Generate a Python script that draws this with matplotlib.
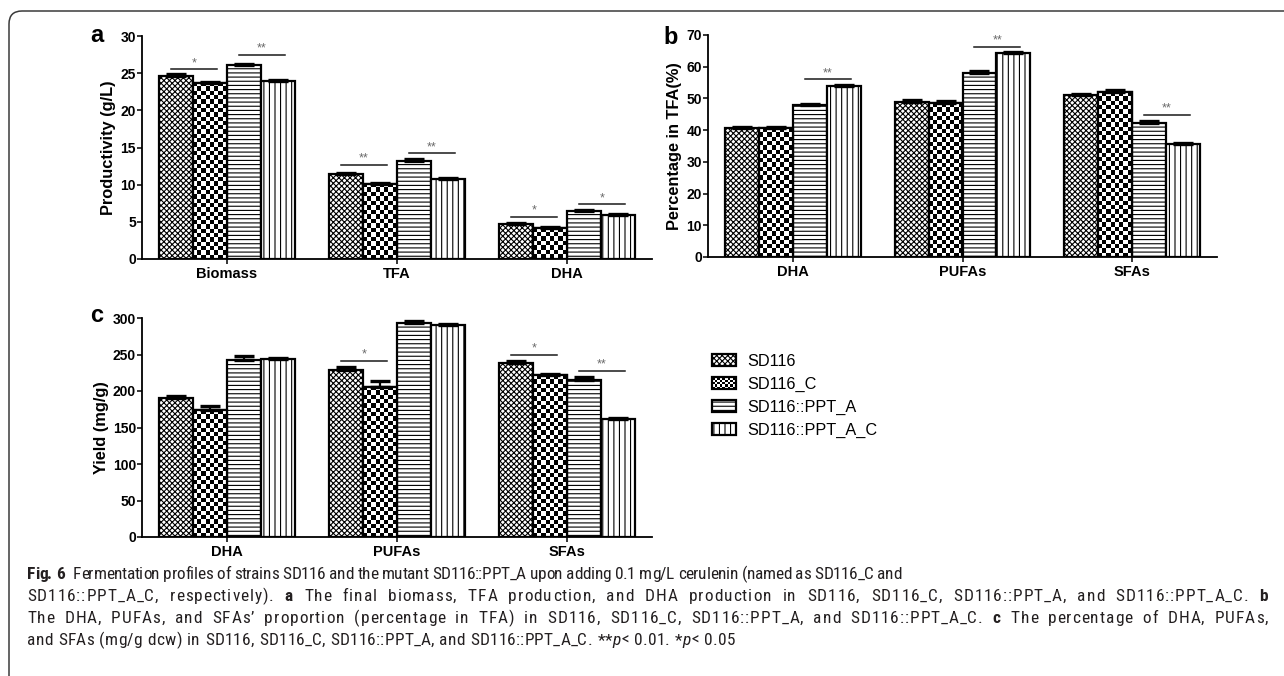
"""Fermentation profiles of SD116 strains: productivity, TFA share and yield."""
import numpy as np
import matplotlib

matplotlib.use("Agg")
import matplotlib.pyplot as plt  # noqa: E402
from matplotlib import font_manager  # noqa: E402
from matplotlib.legend_handler import HandlerBase  # noqa: E402
from matplotlib.patches import FancyBboxPatch, Patch, Rectangle  # noqa: E402

W, H = 1284, 676

strains = ["SD116", "SD116_C", "SD116::PPT_A", "SD116::PPT_A_C"]

# panel a: productivity (g/L), rows = categories, cols = strains
prod_cats = ["Biomass", "TFA", "DHA"]
prod_vals = [[24.6, 23.7, 26.1, 23.9],
             [11.5, 10.1, 13.2, 10.8],
             [4.7, 4.2, 6.4, 5.9]]
prod_err = [[0.25, 0.15, 0.1, 0.15],
            [0.1, 0.15, 0.2, 0.1],
            [0.1, 0.15, 0.15, 0.1]]
# (category, bar i, bar j, height, label)
prod_sig = [(0, 0, 1, 25.5, "*"), (0, 2, 3, 27.4, "**"),
            (1, 0, 1, 12.7, "**"), (1, 2, 3, 14.2, "**"),
            (2, 0, 1, 5.7, "*"), (2, 2, 3, 7.35, "*")]

# panel b: percentage in TFA (%)
pct_cats = ["DHA", "PUFAs", "SFAs"]
pct_vals = [[40.8, 40.6, 47.9, 53.9],
            [49.0, 48.5, 58.0, 64.3],
            [51.2, 51.9, 42.3, 35.6]]
pct_err = [[0.3, 0.4, 0.5, 0.3],
           [0.5, 0.6, 0.5, 0.3],
           [0.3, 0.7, 0.5, 0.2]]
pct_sig = [(0, 2, 3, 56.0, "**"), (1, 2, 3, 66.3, "**"), (2, 2, 3, 44.9, "**")]

# panel c: yield (mg/g)
yield_cats = ["DHA", "PUFAs", "SFAs"]
yield_vals = [[190.5, 173.5, 243.0, 244.0],
              [229.0, 205.5, 293.5, 291.0],
              [238.5, 221.5, 215.5, 161.5]]
yield_err = [[3, 6, 5, 1],
             [4, 8, 3, 1],
             [3, 2, 3, 1]]
yield_sig = [(1, 0, 1, 241.6, "*"), (2, 0, 1, 249.3, "*"), (2, 2, 3, 228.0, "**")]

HATCHES = ["xxxxxx", None, "----", "|||"]  # None = checkerboard
EDGE_LW = 1.6

plt.rcParams["font.family"] = ["Liberation Sans", "DejaVu Sans"]
plt.rcParams["hatch.linewidth"] = 0.8


def pick_caption_font():
    fl = font_manager.fontManager.ttflist
    for name in ["Roboto Condensed", "Liberation Sans Narrow", "Open Sans Condensed"]:
        if any(f.name == name for f in fl):
            return name, "normal"
    if any(f.name == "DejaVu Sans" and f.stretch == "condensed" for f in fl):
        return "DejaVu Sans", "condensed"
    return "DejaVu Sans", "normal"


CAP_FONT, CAP_STRETCH = pick_caption_font()


def px_axes(fig, left, top, right, bottom):
    return fig.add_axes([left / W, 1 - bottom / H, (right - left) / W, (bottom - top) / H])


def checker(ax, bar, cell):
    bb = bar.get_window_extent()
    nx = max(1, int(round(bb.width / cell)))
    ny = max(1, int(round(bb.height / cell)))
    grid = np.add.outer(np.arange(ny), np.arange(nx)) % 2
    x0, y0 = bar.get_x(), bar.get_y()
    im = ax.imshow(grid, cmap="gray", vmin=0, vmax=1, origin="lower",
                   extent=(x0, x0 + bar.get_width(), y0, y0 + bar.get_height()),
                   interpolation="nearest", aspect="auto", zorder=2.5)
    im.set_clip_path(bar)


def draw_panel(ax, cats, vals, errs, sigs, ymax, ystep, ylabel):
    vals = np.array(vals, dtype=float)
    errs = np.array(errs, dtype=float)
    n_cat, n_str = vals.shape
    bw = 0.2
    ax.set_xlim(-0.5, n_cat - 0.5)
    ax.set_ylim(0, ymax)
    centers = np.arange(n_cat)
    for i in range(n_str):
        x = centers + (i - (n_str - 1) / 2) * bw
        bars = ax.bar(x, vals[:, i], bw, facecolor="white", edgecolor="black",
                      linewidth=EDGE_LW, hatch=HATCHES[i], zorder=2)
        if HATCHES[i] is None:
            for b in bars:
                checker(ax, b, 4.3)
            ax.bar(x, vals[:, i], bw, fill=False, edgecolor="black",
                   linewidth=EDGE_LW, zorder=3)
        ax.errorbar(x, vals[:, i], yerr=[np.zeros(n_cat), errs[:, i]], fmt="none",
                    ecolor="black", elinewidth=1.6, capsize=7, capthick=2.4, zorder=4)

    for g, i, j, y, lab in sigs:
        x0 = g + (i - 1.5) * bw - 0.15 * bw
        x1 = g + (j - 1.5) * bw + 0.2 * bw
        ax.plot([x0, x1], [y, y], color="#1a1a1a", lw=1.1, zorder=5)
        ax.annotate(lab, ((x0 + x1) / 2, y), xytext=(0, 0.3), textcoords="offset points",
                    ha="center", va="bottom", fontsize=9, color="#6a6a6a")

    ax.set_xticks(centers)
    ax.set_xticklabels(cats, fontsize=10.5, fontweight="bold")
    ticks = np.arange(0, ymax + 0.01, ystep)
    ax.set_yticks(ticks)
    ax.set_yticklabels([f"{v:g}" for v in ticks], fontsize=10, fontweight="bold")
    ax.tick_params(length=3.5, width=1.1, direction="out")
    ax.tick_params(axis="y", pad=0.8)
    ax.tick_params(axis="x", pad=2)
    ax.set_ylabel(ylabel, fontsize=11.8, fontweight="bold", labelpad=3)
    for s in ("top", "right"):
        ax.spines[s].set_visible(False)
    for s in ("left", "bottom"):
        ax.spines[s].set_linewidth(1.3)


class CheckerHandler(HandlerBase):
    def create_artists(self, legend, orig_handle, xdescent, ydescent, width, height,
                       fontsize, trans):
        x0, y0 = -xdescent, -ydescent
        arts = [Rectangle((x0, y0), width, height, facecolor="white", edgecolor="none",
                          transform=trans)]
        nx, ny = 9, 5
        cw, ch = width / nx, height / ny
        for r in range(ny):
            for c in range(nx):
                if (r + c) % 2 == 0:
                    arts.append(Rectangle((x0 + c * cw, y0 + r * ch), cw, ch,
                                          facecolor="black", edgecolor="none",
                                          transform=trans))
        arts.append(Rectangle((x0, y0), width, height, fill=False, edgecolor="black",
                              linewidth=EDGE_LW, transform=trans))
        return arts


def cap_text(fig, s, style, size):
    kw = dict(fontsize=size, family=CAP_FONT, fontstretch=CAP_STRETCH,
              color="#231f20", va="baseline")
    if style == "b":
        kw["fontweight"] = "bold"
    elif style == "i":
        kw["fontstyle"] = "italic"
    return fig.text(0, 0, s, **kw)


_adv = {}


def advance(fig, renderer, ch, style):
    # advance width of one character at 10 pt
    if (ch, style) not in _adv:
        a = cap_text(fig, "n" + ch + "n", style, 10)
        b = cap_text(fig, "nn", style, 10)
        _adv[(ch, style)] = (a.get_window_extent(renderer).width
                             - b.get_window_extent(renderer).width)
        a.remove()
        b.remove()
    return _adv[(ch, style)]


def line_chars(parts):
    return [(c, st) for text, st in parts for c in text]


def natural_width(fig, renderer, parts, size):
    return sum(advance(fig, renderer, c, st) for c, st in line_chars(parts)) * size / 10


def caption_line(fig, renderer, parts, size, x0, y, right):
    # set the line so that it runs from x0 to right, spreading the
    # difference over word gaps and letter spacing
    chars = line_chars(parts)
    adv = [advance(fig, renderer, c, st) * size / 10 for c, st in chars]
    extra = right - x0 - sum(adv)
    n_sp = sum(1 for c, _ in chars if c == " ")
    n_let = len(chars) - 1 - n_sp
    word_share = 0.45 if extra > 0 else 0.0
    word_extra = word_share * extra / max(n_sp, 1)
    letter_extra = (1 - word_share) * extra / max(n_let, 1)
    x = x0
    for (c, st), a in zip(chars, adv):
        if c == " ":
            x += a + word_extra
            continue
        t = cap_text(fig, c, st, size)
        t.set_position((x / W, 1 - y / H))
        x += a + letter_extra


fig = plt.figure(figsize=(W / 100, H / 100), dpi=100)
renderer = fig.canvas.get_renderer()

ax_a = px_axes(fig, 142, 36, 652, 259)
draw_panel(ax_a, prod_cats, prod_vals, prod_err, prod_sig, 30, 5, "Productivity (g/L)")
ax_b = px_axes(fig, 708, 35, 1217, 257)
draw_panel(ax_b, pct_cats, pct_vals, pct_err, pct_sig, 70, 10, "Percentage in TFA(%)")
ax_c = px_axes(fig, 142, 318, 652, 537)
draw_panel(ax_c, yield_cats, yield_vals, yield_err, yield_sig, 300, 50, "Yield (mg/g)")

for letter, lx, ly in [("a", 97, 36), ("b", 671, 38), ("c", 97, 316)]:
    fig.text(lx / W, 1 - ly / H, letter, fontsize=17, fontweight="bold",
             ha="center", va="center")

handles = [Patch(facecolor="white", edgecolor="black", hatch=h, linewidth=EDGE_LW)
           for h in HATCHES]
fig.legend(handles, strains, loc="upper left", bbox_to_anchor=(712 / W, 1 - 354 / H),
           frameon=False, fontsize=11.7, handlelength=1.45, handleheight=0.75,
           handletextpad=0.7, labelspacing=0.48, borderpad=0, borderaxespad=0,
           handler_map={handles[1]: CheckerHandler()})

# caption text, with the right end of each line as set in the figure
cap_lines = [
    [("Fig. 6", "b"), ("  Fermentation profiles of strains SD116 and the mutant SD116::PPT_A "
                       "upon adding 0.1 mg/L cerulenin (named as SD116_C and", "n")],
    [("SD116::PPT_A_C, respectively). ", "n"), ("a", "b"),
     (" The final biomass, TFA production, and DHA production in SD116, SD116_C, "
      "SD116::PPT_A, and SD116::PPT_A_C. ", "n"), ("b", "b")],
    [("The DHA, PUFAs, and SFAs\u2019 proportion (percentage in TFA) in SD116, SD116_C, "
      "SD116::PPT_A, and SD116::PPT_A_C. ", "n"), ("c", "b"),
     (" The percentage of DHA, PUFAs,", "n")],
    [("and SFAs (mg/g dcw) in SD116, SD116_C, SD116::PPT_A, and SD116::PPT_A_C. **", "n"),
     ("p", "i"), ("< 0.01. *", "n"), ("p", "i"), ("< 0.05", "n")],
]
cap_right = [902, 1268, 1268, 735]

cap_size = 1.03 * 10 * (902 - 27) / natural_width(fig, renderer, cap_lines[0], 10)

for k, parts in enumerate(cap_lines):
    caption_line(fig, renderer, parts, cap_size, 27, 579 + 22 * k, cap_right[k])

frame = FancyBboxPatch((0.09, -1.0), 14, H / 100 - 0.11 + 1.0,
                       boxstyle="round,pad=0,rounding_size=0.13",
                       transform=fig.dpi_scale_trans, fill=False,
                       edgecolor="#3a3a3a", linewidth=1.1, clip_on=False)
fig.add_artist(frame)

fig.savefig("out.png", dpi=100)
